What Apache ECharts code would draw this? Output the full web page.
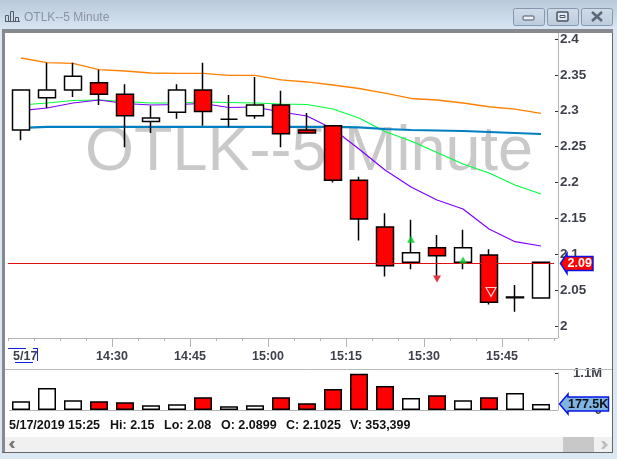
<!DOCTYPE html>
<html><head><meta charset="utf-8">
<style>html,body{margin:0;padding:0;background:#dbe8f4}#c{width:617px;height:459px}</style>
<script src="https://cdn.jsdelivr.net/npm/echarts@6/dist/echarts.min.js"></script>
</head><body><div id="c"></div>
<script>
const categories=['14:15','14:20','14:25','14:30','14:35','14:40','14:45','14:50','14:55','15:00','15:05','15:10','15:15','15:20','15:25','15:30','15:35','15:40','15:45','15:50','15:55'];
const boundaryLabels=['','','','','14:30','','','14:45','','','15:00','','','15:15','','','15:30','','','15:45','',''];
const opens =[2.273,2.318,2.329,2.339,2.323,2.285,2.298,2.329,2.288,2.293,2.308,2.273,2.279,2.203,2.138,2.089,2.109,2.089,2.099,2.0395,2.039];
const closes=[2.329,2.329,2.348,2.323,2.293,2.290,2.329,2.299,2.288,2.308,2.268,2.269,2.203,2.149,2.084,2.102,2.098,2.109,2.033,2.0405,2.089];
const lows  =[2.259,2.304,2.319,2.308,2.249,2.269,2.289,2.279,2.277,2.289,2.249,2.269,2.200,2.119,2.069,2.079,2.070,2.079,2.030,2.02,2.039];
const highs =[2.329,2.367,2.367,2.357,2.337,2.307,2.337,2.367,2.322,2.347,2.328,2.297,2.279,2.208,2.157,2.148,2.127,2.134,2.107,2.057,2.089];
const volumes=[262000,653000,292000,262000,232000,141000,172000,382000,111000,141000,382000,202000,623000,1075000,713000,353399,442000,292000,382000,503000,177500];
const maOrange=[2.3735,2.3672,2.3659,2.3574,2.3554,2.3526,2.3522,2.3522,2.3494,2.3494,2.3429,2.3401,2.3359,2.3310,2.3247,2.3171,2.3150,2.3108,2.3056,2.3024,2.2962];
const maGreen=[2.3080,2.3108,2.3143,2.3150,2.3129,2.3108,2.3108,2.3122,2.3115,2.3108,2.3094,2.3087,2.3024,2.2899,2.2711,2.2578,2.2418,2.2258,2.2132,2.1965,2.1840];
const maPurple=[2.3003,2.3038,2.3108,2.3150,2.3101,2.3080,2.3087,2.3101,2.3045,2.3052,2.2983,2.2927,2.2746,2.2467,2.2174,2.1937,2.1756,2.1631,2.1352,2.1175,2.1115];
const maBlue=[2.2760,2.2774,2.2774,2.2774,2.2774,2.2774,2.2774,2.2774,2.2774,2.2774,2.2774,2.2774,2.2774,2.2767,2.2746,2.2732,2.2725,2.2718,2.2704,2.2690,2.2676];
const buyMarks=[[15,2.121],[17,2.092]];
const sellMarks=[[16,2.0655]];
const stopMarks=[[18,2.0474]];
const lastPrice=2.087;
const lastPriceLabel='2.09';
const lastVolumeLabel='177.5K';
const titleText='OTLK--5 Minute';
const dateLabel='5/17';
const infoTexts=[['5/17/2019 15:25',9],['Hi: 2.15',110],['Lo: 2.08',164],['O: 2.0899',221],['C: 2.1025',286],['V: 353,399',350]];

const FONT='"Liberation Sans",Arial,sans-serif';
const LABEL='#3d3f4a';
const chart=echarts.init(document.getElementById('c'),null,{renderer:'canvas'});

const rect=(x,y,w,h,fill,extra)=>Object.assign({type:'rect',shape:{x,y,width:w,height:h},style:{fill},silent:true,z:0},extra||{});
const line=(x1,y1,x2,y2,stroke,lw,z)=>({type:'line',shape:{x1,y1,x2,y2},style:{stroke,lineWidth:lw||1},silent:true,z:z||1});
const text=(t,x,y,size,fill,weight,extra)=>Object.assign({type:'text',x,y,style:{text:t,font:(weight||'normal')+' '+size+'px '+FONT,fill,textVerticalAlign:'middle'},silent:true,z:5},extra||{});
const arrow=(tip,neck,end,cy,h,flare,fill)=>({type:'polygon',shape:{points:[[tip,cy],[neck,cy-flare],[neck,cy-h],[end,cy-h],[end,cy+h],[neck,cy+h],[neck,cy+flare]]},style:{fill,stroke:'#0a14e6',lineWidth:1.5},silent:true,z:50});
const btn=(x)=>({type:'rect',shape:{x:x,y:8.5,width:31,height:17,r:2},style:{fill:new echarts.graphic.LinearGradient(0,0,0,1,[{offset:0,color:'#d0dce9'},{offset:1,color:'#bccbdd'}]),stroke:'#8797ad',lineWidth:1},silent:true,z:1});

const graphics=[
  rect(0,0,617,30,new echarts.graphic.LinearGradient(0,0,0,1,[{offset:0,color:'#b9c9d9'},{offset:1,color:'#d8e6f4'}])),
  rect(0,30,617,429,'#dbe8f4'),
  rect(2,29,611,424,'#868a8e'),
  rect(5,33,607,419,'#ffffff'),
  rect(5,437,607,15,'#f0f0f0'),
  rect(563,437,31,15,'#c8c8c8'),
  line(612.5,33,612.5,453,'#666666',1),
  line(2,452.5,613,452.5,'#666666',1),
  // title bar
  text(titleText,24,18,12,'#8b93a0'),
  line(5,21.5,20,21.5,'#555d68',1),
  rect(5.5,15.5,3,6,'none',{style:{fill:'none',stroke:'#555d68'},z:2}),
  rect(10.5,11.5,3,10,'none',{style:{fill:'none',stroke:'#555d68'},z:2}),
  rect(15.5,17.5,3,4,'none',{style:{fill:'none',stroke:'#555d68'},z:2}),
  btn(513.5),btn(547.5),btn(581.5),
  {type:'rect',shape:{x:523,y:16,width:11,height:4,r:1},style:{fill:'#eef2f6',stroke:'#4a5566'},silent:true,z:2},
  {type:'rect',shape:{x:557,y:12,width:11,height:9,r:1},style:{fill:'#dfe7f0',stroke:'#4a5566',lineWidth:1.5},silent:true,z:2},
  {type:'rect',shape:{x:560,y:15.5,width:5,height:2},style:{fill:'#f4f6f9',stroke:'#4a5566'},silent:true,z:3},
  line(592,12,602,21,'#5b6676',2.5,2),line(602,12,592,21,'#5b6676',2.5,2),
  // watermark
  text(titleText,85,153,63,'#c9c9c9','normal',{z:0}),
  // panel rules
  line(558.5,33,558.5,338,'#b4b4b4',1),
  line(8,338.5,558,338.5,'#b4b4b4',1),
  line(5,369.5,612,369.5,'#bcbcbc',1),
  line(9,410.5,558,410.5,'#b4b4b4',1),
  // date flag
  text(dateLabel,13,357,12.5,LABEL,'bold'),
  line(8,348.5,26,348.5,'#1020e0',1),line(15,362.5,33,362.5,'#1020e0',1),
  line(33,348.5,37.5,348.5,'#1020e0',1),line(37.5,348,37.5,361,'#1020e0',1),
  // scroll arrows
  {type:'polygon',shape:{points:[[601,441],[604,441],[608,445],[604,449],[601,449],[604,445]]},style:{fill:'#bdbdbd'},silent:true,z:2},
  {type:'polygon',shape:{points:[[15,441],[12,441],[9,444.5],[12,448],[15,448],[12.5,444.5]]},style:{fill:'#777777'},silent:true,z:2},
  // value flags
  arrow(560.5,567,593,263.5,7,10,'#ff0000'),
  text(lastPriceLabel,567.5,264,12.5,'#ffffff','bold',{z:51}),
  arrow(559.5,568,608.5,404,7,10,'#7fb3e0'),
  text(lastVolumeLabel,568,404.5,12.5,'#101018','bold',{z:51})
];
infoTexts.forEach(([t,x])=>graphics.push(text(t,x,426,12.5,'#111111','bold')));

const volumeData=volumes.map((v,i)=>({value:v,itemStyle:{color:closes[i]>=opens[i]?'#ffffff':'#ff0000'}}));
const candleData=categories.map((c,i)=>[opens[i],closes[i],lows[i],highs[i]]);
const maLine=(data,color,width)=>({type:'line',data,showSymbol:false,symbol:'none',xAxisIndex:0,yAxisIndex:0,lineStyle:{color,width},z:2,silent:true,animation:false});

chart.setOption({
  animation:false,
  backgroundColor:'transparent',
  graphic:{elements:graphics},
  grid:[
    {left:8,width:546,top:39,height:287,containLabel:false},
    {left:8,width:546,top:373,height:37,containLabel:false}
  ],
  xAxis:[
    {type:'category',gridIndex:0,data:categories,show:false,boundaryGap:true},
    {type:'category',gridIndex:0,data:boundaryLabels,boundaryGap:false,position:'bottom',offset:12,
      axisLine:{show:false},axisTick:{show:true,length:3,interval:0,lineStyle:{color:'#b4b4b4'}},axisLabel:{show:false}},
    {type:'category',gridIndex:0,data:boundaryLabels,boundaryGap:false,position:'bottom',offset:12,
      axisLine:{show:false},axisTick:{show:true,length:9,interval:(i,v)=>v!=='',lineStyle:{color:'#b4b4b4'}},
      axisLabel:{show:true,interval:0,margin:12,color:LABEL,fontFamily:FONT,fontSize:12.5,fontWeight:'bold'}},
    {type:'category',gridIndex:1,data:categories,show:false,boundaryGap:true}
  ],
  yAxis:[
    {type:'value',gridIndex:0,min:2,max:2.4,interval:0.05,position:'right',offset:4,scale:true,
      splitLine:{show:false},axisLine:{show:false},
      axisTick:{show:true,inside:true,length:3,lineStyle:{color:'#333333'}},
      axisLabel:{margin:2,padding:[4,0,0,0],color:LABEL,fontFamily:FONT,fontSize:13.5,fontWeight:'bold',formatter:v=>String(parseFloat(v.toFixed(2)))}},
    {type:'value',gridIndex:1,min:0,max:1100000,interval:1100000,position:'right',offset:4,
      splitLine:{show:false},axisLine:{show:true,lineStyle:{color:'#b4b4b4'}},
      axisTick:{show:true,inside:true,length:3,lineStyle:{color:'#333333'}},
      axisLabel:{margin:44,align:'right',padding:[4,0,0,0],color:LABEL,fontFamily:FONT,fontSize:13,fontWeight:'bold',formatter:v=>v>0?'1.1M':'0'}}
  ],
  series:[
    maLine(maOrange,'#ff8000',1.3),
    maLine(maGreen,'#00ff40',1.2),
    maLine(maPurple,'#8000ff',1.2),
    maLine(maBlue,'#0080c0',2.2),
    {type:'candlestick',xAxisIndex:0,yAxisIndex:0,data:candleData,barWidth:18,z:3,silent:true,
      itemStyle:{color:'#ffffff',color0:'#ff0000',borderColor:'#000000',borderColor0:'#000000',borderColorDoji:'#000000',borderWidth:1.5},
      markLine:{silent:true,symbol:'none',precision:4,label:{show:false},lineStyle:{color:'#e01010',width:1,type:'solid'},data:[{yAxis:lastPrice}],animation:false}},
    {type:'scatter',xAxisIndex:0,yAxisIndex:0,data:buyMarks,symbol:'triangle',symbolSize:[8,7],itemStyle:{color:'#00d020'},z:5,silent:true},
    {type:'scatter',xAxisIndex:0,yAxisIndex:0,data:sellMarks,symbol:'triangle',symbolRotate:180,symbolSize:[8,7],itemStyle:{color:'#e00010'},z:5,silent:true},
    {type:'scatter',xAxisIndex:0,yAxisIndex:0,data:stopMarks,symbol:'triangle',symbolRotate:180,symbolSize:[10,9],symbolOffset:[2,0],itemStyle:{color:'#ff0000',borderColor:'#ffffff',borderWidth:1.2},z:5,silent:true},
    {type:'bar',xAxisIndex:3,yAxisIndex:1,data:volumeData,barWidth:18,z:3,silent:true,itemStyle:{borderColor:'#000000',borderWidth:1.5}}
  ]
});
</script></body></html>
